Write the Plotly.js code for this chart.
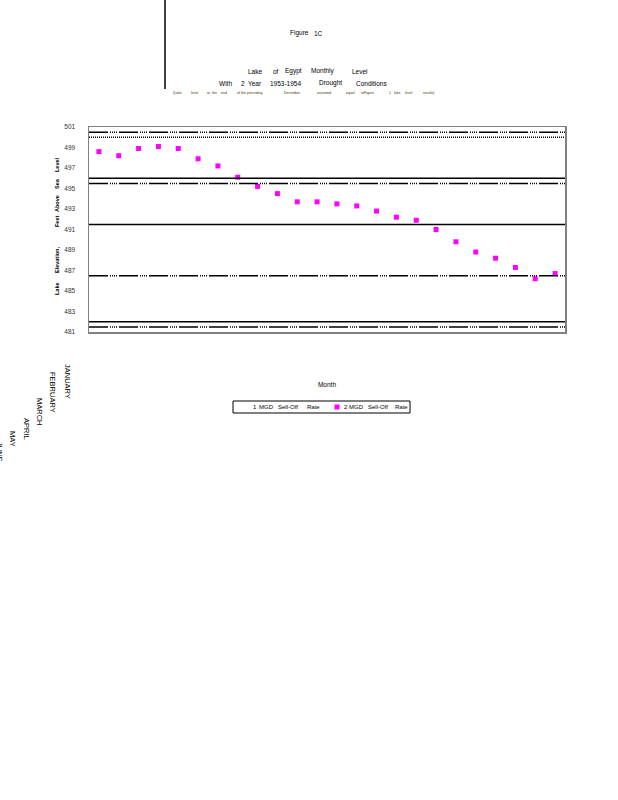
<!DOCTYPE html>
<html>
<head>
<meta charset="utf-8">
<script src="https://cdn.plot.ly/plotly-3.0.1.min.js"></script>
<style>html,body{margin:0;padding:0;background:#fff;}#chart{width:618px;height:800px;}</style>
</head>
<body>
<div id="chart"></div>
<script>
// ---- data ----
var months = [1,2,3,4,5,6,7,8,9,10,11,12,13,14,15,16,17,18,19,20,21,22,23,24];
var level1MGD = [null,null,null,null,null,null,null,null,null,null,null,null,null,null,null,null,null,null,null,null,null,null,null,null];
var level2MGD = [498.6,498.2,498.9,499.1,498.9,497.9,497.2,496.1,495.2,494.5,493.7,493.7,493.5,493.3,492.8,492.2,491.9,491.0,489.8,488.8,488.2,487.3,486.2,486.7];
var seriesNames = ['1 MGD Sell-Off Rate', '2 MGD Sell-Off Rate'];
var yTicks = [481,483,485,487,489,491,493,495,497,499,501];
var solidLevels = [496, 491.5, 482];
var dashDotLevels = [500.5, 495.5, 486.5, 481.5];
var dottedLevels = [500];
var monthLabels = ['JANUARY','FEBRUARY','MARCH','APRIL','MAY','JUNE'];
var titleWords = ['Figure','1C'];
var line1Words = ['Lake','of','Egypt','Monthly','Level'];
var line2Words = ['With','2','Year','1953-1954','Drought','Conditions'];
var line3Words = ['(Lake','level','at','the','end','of','the','preceding','December','assumed','equal','to','Figure','1','lake','level','results)'];
var yTitleWords = ['Lake','Elevation,','Feet','Above','Sea','Level'];
var xTitle = 'Month';

// ---- layout helpers (plot area in pixels) ----
var L = 89, R = 565, T = 127, B = 332;
function px(x){ return (x - L) / (R - L); }
function py(y){ return (B - y) / (B - T); }
var NARROW = 'Liberation Sans Narrow, Arial Narrow, Liberation Sans, sans-serif';

var annotations = [];
function word(text, cx, cy, size, color, opts){
  var a = {text: text, x: px(cx), y: py(cy), xref: 'paper', yref: 'paper',
    xanchor: 'center', yanchor: 'middle', showarrow: false,
    font: {family: NARROW, size: size, color: color || '#000'}};
  if (opts) for (var k in opts) a[k] = opts[k];
  annotations.push(a);
}
var tX = [299, 318];
titleWords.forEach(function(w,i){ word(w, tX[i], 33, 6.5); });
var l1X = [255, 276, 293, 323, 360];
line1Words.forEach(function(w,i){ word(w, l1X[i], 71, 6.5); });
var l2X = [225, 243, 255, 285, 330, 371];
line2Words.forEach(function(w,i){ word(w, l2X[i], 83, 6.5); });
var l3X = [177, 194, 208, 214, 224, 238, 243.5, 254, 292.5, 324, 350.5, 362, 368.5, 390, 397, 408.5, 428];
line3Words.forEach(function(w,i){ word(w, l3X[i], 93, 3.5, '#4a3300'); });
var ytY = [289, 260, 222, 204, 184, 165];
yTitleWords.forEach(function(w,i){ word('<b>'+w+'</b>', 57, ytY[i], 5.5, '#000', {textangle: -90}); });
var mX = [68, 53, 40, 27, 13, 0];
var mY = [381, 392, 412, 429, 439, 452];
monthLabels.forEach(function(w,i){ word(w, mX[i], mY[i], 7.5, '#000', {textangle: 90}); });

// ---- manual legend (compact box like the reference) ----
var legWords = seriesNames.map(function(s){ return s.split(' '); });
var legX = [[254.5, 266, 288, 313.5], [346, 356, 378, 401.5]];
legWords.forEach(function(ws, j){ ws.forEach(function(w, i){ word(w, legX[j][i], 407, 6); }); });

// ---- shapes: reference levels ----
var shapes = [];
solidLevels.forEach(function(v){
  shapes.push({type:'line', xref:'paper', yref:'y', x0:0, x1:1, y0:v, y1:v, line:{color:'#000', width:1.5}});
});
dashDotLevels.forEach(function(v){
  shapes.push({type:'line', xref:'paper', yref:'y', x0:0, x1:1, y0:v, y1:v, line:{color:'#000', width:1.5, dash:'19px,2px,1px,1px,1px,1px,1px,1px,1px,2px'}});
});
dottedLevels.forEach(function(v){
  shapes.push({type:'line', xref:'paper', yref:'y', x0:0, x1:1, y0:v, y1:v, line:{color:'#000', width:1.5, dash:'1px,1px'}});
});
// vertical rule near the title
shapes.push({type:'line', xref:'paper', yref:'paper', x0:px(165), x1:px(165), y0:py(0), y1:py(89), line:{color:'#000', width:1.5}});
// legend box and symbol
shapes.push({type:'rect', xref:'paper', yref:'paper', x0:px(233), x1:px(410), y0:py(401), y1:py(413), line:{color:'#000', width:1}, fillcolor:'rgba(0,0,0,0)'});
shapes.push({type:'rect', xref:'paper', yref:'paper', x0:px(334.5), x1:px(339.5), y0:py(404.5), y1:py(409.5), line:{width:0}, fillcolor:'#ff00ff'});

var traces = [
  {x: months, y: level1MGD, name: seriesNames[0], type:'scatter', mode:'markers', showlegend:false,
   marker:{symbol:'square', size:5, color:'#ffffff'}},
  {x: months, y: level2MGD, name: seriesNames[1], type:'scatter', mode:'markers', showlegend:false,
   marker:{symbol:'square', size:5, color:'#ff00ff'}}
];

var layout = {
  width: 618, height: 800,
  margin: {l: L, r: 618 - R, t: T, b: 800 - B, pad: 0},
  paper_bgcolor: '#fff', plot_bgcolor: '#fff',
  showlegend: false,
  xaxis: {range:[0.5, 24.5], showticklabels:false, ticks:'', showgrid:false, zeroline:false,
    showline:true, mirror:true, linecolor:'#808080', linewidth:1.5,
    title:{text: xTitle, font:{family: NARROW, size:6.5, color:'#000'}, standoff: 50}},
  yaxis: {range:[481, 501], tickvals: yTicks, ticktext: yTicks.map(String), ticks:'',
    showgrid:false, zeroline:false, showline:true, mirror:true, linecolor:'#808080', linewidth:1.5,
    tickfont:{family: NARROW, size:6.5, color:'#333'}, ticklabelstandoff: 11},
  shapes: shapes,
  annotations: annotations
};

Plotly.newPlot('chart', traces, layout, {displayModeBar:false, staticPlot:true});
</script>
</body>
</html>
